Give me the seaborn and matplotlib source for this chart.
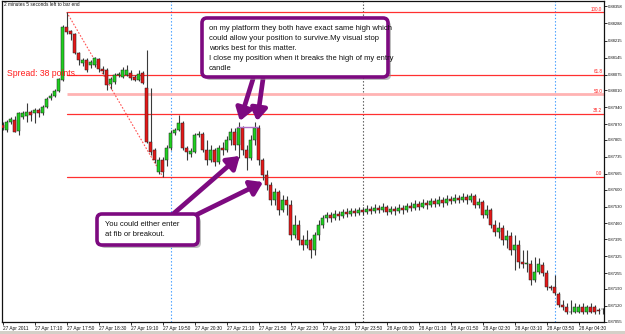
import matplotlib
matplotlib.use("Agg")
import matplotlib.pyplot as plt
import seaborn as sns
import numpy as np
import pandas as pd
from matplotlib.patches import FancyBboxPatch, Rectangle

# ---------------- data (M5 candles, 27 Apr 16:30 .. 28 Apr 05:00) -------------
opens = [
    0.87867, 0.87846, 0.87879, 0.87887, 0.87842, 0.87900, 0.87904, 0.87920, 0.87916, 0.87929,
    0.87916, 0.87941, 0.87978, 0.87987, 0.88007, 0.88053, 0.88272, 0.88255, 0.88243, 0.88164,
    0.88123, 0.88135, 0.88115, 0.88115, 0.88139, 0.88098, 0.88094, 0.88036, 0.88044, 0.88073,
    0.88065, 0.88073, 0.88082, 0.88065, 0.88053, 0.88082, 0.88020, 0.87797, 0.87764, 0.87673,
    0.87722, 0.87722, 0.87772, 0.87834, 0.87846, 0.87875, 0.87772, 0.87747, 0.87755, 0.87825,
    0.87830, 0.87764, 0.87722, 0.87764, 0.87714, 0.87772, 0.87764, 0.87805, 0.87838, 0.87784,
    0.87854, 0.87764, 0.87730, 0.87805, 0.87854, 0.87722, 0.87660, 0.87619, 0.87557, 0.87590,
    0.87516, 0.87557, 0.87536, 0.87412, 0.87454, 0.87392, 0.87371, 0.87392, 0.87350, 0.87412,
    0.87454, 0.87483, 0.87495, 0.87483, 0.87499, 0.87491, 0.87507, 0.87499, 0.87512, 0.87503,
    0.87516, 0.87507, 0.87520, 0.87512, 0.87524, 0.87516, 0.87528, 0.87507, 0.87520, 0.87512,
    0.87524, 0.87516, 0.87532, 0.87524, 0.87541, 0.87528, 0.87545, 0.87536, 0.87553, 0.87541,
    0.87557, 0.87545, 0.87561, 0.87553, 0.87565, 0.87557, 0.87569, 0.87557, 0.87574, 0.87536,
    0.87549, 0.87495, 0.87516, 0.87454, 0.87425, 0.87441, 0.87392, 0.87408, 0.87350, 0.87371,
    0.87301, 0.87293, 0.87293, 0.87227, 0.87260, 0.87289, 0.87256, 0.87198, 0.87198, 0.87169,
    0.87123, 0.87115, 0.87095, 0.87095, 0.87095, 0.87115, 0.87095, 0.87115, 0.87115, 0.87103,
    0.87107]

highs = [
    0.87879, 0.87887, 0.87900, 0.87904, 0.87920, 0.87925, 0.87958, 0.87929, 0.87937, 0.87937,
    0.87949, 0.87982, 0.87999, 0.88015, 0.88061, 0.88280, 0.88333, 0.88259, 0.88247, 0.88168,
    0.88143, 0.88143, 0.88135, 0.88148, 0.88143, 0.88110, 0.88102, 0.88065, 0.88082, 0.88086,
    0.88106, 0.88115, 0.88094, 0.88073, 0.88094, 0.88090, 0.88177, 0.88020, 0.87772, 0.87735,
    0.87735, 0.87784, 0.87846, 0.87854, 0.87908, 0.87883, 0.87780, 0.87772, 0.87834, 0.87842,
    0.87838, 0.87805, 0.87784, 0.87772, 0.87784, 0.87797, 0.87821, 0.87854, 0.87854, 0.87879,
    0.87863, 0.87784, 0.87825, 0.87879, 0.87867, 0.87730, 0.87681, 0.87631, 0.87607, 0.87598,
    0.87578, 0.87574, 0.87557, 0.87495, 0.87474, 0.87412, 0.87433, 0.87400, 0.87425, 0.87474,
    0.87495, 0.87507, 0.87507, 0.87516, 0.87512, 0.87520, 0.87524, 0.87524, 0.87524, 0.87528,
    0.87528, 0.87536, 0.87532, 0.87541, 0.87536, 0.87545, 0.87536, 0.87532, 0.87532, 0.87541,
    0.87536, 0.87545, 0.87549, 0.87557, 0.87553, 0.87561, 0.87557, 0.87565, 0.87565, 0.87574,
    0.87569, 0.87578, 0.87574, 0.87582, 0.87578, 0.87586, 0.87582, 0.87586, 0.87582, 0.87565,
    0.87557, 0.87536, 0.87524, 0.87474, 0.87466, 0.87454, 0.87433, 0.87425, 0.87412, 0.87392,
    0.87350, 0.87350, 0.87309, 0.87322, 0.87317, 0.87301, 0.87268, 0.87206, 0.87247, 0.87177,
    0.87144, 0.87132, 0.87144, 0.87132, 0.87128, 0.87132, 0.87123, 0.87132, 0.87123, 0.87111,
    0.87111]

lows = [
    0.87846, 0.87838, 0.87871, 0.87838, 0.87825, 0.87892, 0.87879, 0.87883, 0.87875, 0.87900,
    0.87908, 0.87937, 0.87970, 0.87982, 0.88003, 0.88048, 0.88243, 0.88218, 0.88160, 0.88115,
    0.88110, 0.88086, 0.88102, 0.88106, 0.88086, 0.88077, 0.88011, 0.88015, 0.88036, 0.88065,
    0.88061, 0.88069, 0.88053, 0.88048, 0.88048, 0.88036, 0.87792, 0.87743, 0.87710, 0.87664,
    0.87652, 0.87697, 0.87764, 0.87825, 0.87842, 0.87764, 0.87722, 0.87735, 0.87751, 0.87817,
    0.87755, 0.87702, 0.87714, 0.87697, 0.87706, 0.87743, 0.87755, 0.87784, 0.87764, 0.87730,
    0.87743, 0.87681, 0.87722, 0.87784, 0.87702, 0.87640, 0.87598, 0.87536, 0.87536, 0.87495,
    0.87507, 0.87495, 0.87392, 0.87400, 0.87371, 0.87350, 0.87359, 0.87317, 0.87330, 0.87392,
    0.87441, 0.87466, 0.87466, 0.87474, 0.87474, 0.87483, 0.87487, 0.87491, 0.87491, 0.87495,
    0.87495, 0.87499, 0.87499, 0.87503, 0.87503, 0.87507, 0.87495, 0.87499, 0.87495, 0.87503,
    0.87499, 0.87507, 0.87512, 0.87516, 0.87516, 0.87524, 0.87520, 0.87528, 0.87528, 0.87532,
    0.87528, 0.87536, 0.87541, 0.87545, 0.87545, 0.87549, 0.87541, 0.87549, 0.87524, 0.87524,
    0.87483, 0.87483, 0.87441, 0.87408, 0.87400, 0.87371, 0.87359, 0.87330, 0.87268, 0.87276,
    0.87276, 0.87260, 0.87206, 0.87218, 0.87251, 0.87243, 0.87185, 0.87185, 0.87165, 0.87115,
    0.87103, 0.87086, 0.87086, 0.87090, 0.87090, 0.87086, 0.87086, 0.87090, 0.87086, 0.87086,
    0.87086]

closes = [
    0.87854, 0.87879, 0.87892, 0.87838, 0.87916, 0.87916, 0.87920, 0.87908, 0.87929, 0.87916,
    0.87941, 0.87974, 0.87987, 0.88007, 0.88057, 0.88272, 0.88251, 0.88243, 0.88164, 0.88135,
    0.88135, 0.88094, 0.88127, 0.88143, 0.88098, 0.88090, 0.88032, 0.88057, 0.88073, 0.88077,
    0.88094, 0.88094, 0.88061, 0.88053, 0.88077, 0.88040, 0.87797, 0.87755, 0.87722, 0.87722,
    0.87673, 0.87772, 0.87834, 0.87846, 0.87875, 0.87772, 0.87755, 0.87759, 0.87825, 0.87830,
    0.87764, 0.87722, 0.87764, 0.87714, 0.87772, 0.87764, 0.87805, 0.87838, 0.87784, 0.87854,
    0.87764, 0.87730, 0.87805, 0.87854, 0.87722, 0.87660, 0.87619, 0.87557, 0.87590, 0.87516,
    0.87557, 0.87536, 0.87412, 0.87454, 0.87392, 0.87371, 0.87392, 0.87350, 0.87412, 0.87454,
    0.87483, 0.87495, 0.87483, 0.87499, 0.87491, 0.87507, 0.87499, 0.87512, 0.87503, 0.87516,
    0.87507, 0.87520, 0.87512, 0.87524, 0.87516, 0.87528, 0.87507, 0.87520, 0.87512, 0.87524,
    0.87516, 0.87532, 0.87524, 0.87541, 0.87528, 0.87545, 0.87536, 0.87553, 0.87541, 0.87557,
    0.87545, 0.87561, 0.87553, 0.87565, 0.87557, 0.87569, 0.87557, 0.87574, 0.87536, 0.87549,
    0.87495, 0.87516, 0.87454, 0.87425, 0.87441, 0.87392, 0.87408, 0.87350, 0.87371, 0.87301,
    0.87293, 0.87297, 0.87227, 0.87260, 0.87293, 0.87256, 0.87198, 0.87194, 0.87173, 0.87123,
    0.87115, 0.87095, 0.87095, 0.87115, 0.87115, 0.87095, 0.87115, 0.87095, 0.87095, 0.87099,
    0.87107]

x_tick_labels = ["27 Apr 2011", "27 Apr 17:10", "27 Apr 17:50", "27 Apr 18:30", "27 Apr 19:10",
                 "27 Apr 19:50", "27 Apr 20:30", "27 Apr 21:10", "27 Apr 21:50", "27 Apr 22:30",
                 "27 Apr 23:10", "27 Apr 23:50", "28 Apr 00:30", "28 Apr 01:10", "28 Apr 01:50",
                 "28 Apr 02:30", "28 Apr 03:10", "28 Apr 03:50", "28 Apr 04:30"]
y_tick_values = [0.88358, 0.88288, 0.88215, 0.88145, 0.88075, 0.88010, 0.87940, 0.87870,
                 0.87805, 0.87735, 0.87665, 0.87600, 0.87530, 0.87460, 0.87395, 0.87325,
                 0.87255, 0.87190, 0.87120, 0.87055]

fib_high = 0.88333
fib_low = 0.87654
fib_ratios = [100.0, 61.8, 50.0, 38.2, 0.0]
fib_start_bar = 16
fib_low_bar = 40

blue_separators = [42, 138]
day_separator = 90

same_high_price = 0.87858

note_top = ("on my platform they both have exact same high which",
            "could allow your position to survive.My visual stop",
            "works best for this matter.",
            "I close my position when it breaks the high of my entry",
            "candle")
note_bottom = ("You could either enter", "at fib or breakout.")

# ---------------- figure ----------------
sns.set_theme(style="white")
plt.rcParams["font.family"] = ["Liberation Sans", "DejaVu Sans"]

W, H = 625, 334
fig = plt.figure(figsize=(W / 100, H / 100), dpi=100)
fig.patch.set_facecolor("white")
ax = fig.add_axes([2 / W, 1 - 322 / H, 602 / W, 321 / H])
ax.set_facecolor("white")

df = pd.DataFrame({"open": opens, "high": highs, "low": lows, "close": closes})
df["bar"] = np.arange(len(df))
up = df["close"] >= df["open"]

# wicks
ax.vlines(df["bar"], df["low"], df["high"], color="#3a3a3a", lw=0.8, zorder=3)
# bodies
body_lo = np.minimum(df["open"], df["close"])
body_h = np.maximum(np.abs(df["close"] - df["open"]), 0.000012)
ax.bar(df["bar"][up], body_h[up], bottom=body_lo[up], width=0.72,
       color="#1fd01f", edgecolor="#202020", linewidth=0.35, zorder=4)
ax.bar(df["bar"][~up], body_h[~up], bottom=body_lo[~up], width=0.72,
       color="#e41818", edgecolor="#202020", linewidth=0.35, zorder=4)

ax.set_xlim(-0.175, 150.33)
ax.set_ylim(0.87053, 0.88379)

# separators
for b in blue_separators:
    ax.axvline(b, color="#3d9bff", lw=0.8, ls=(0, (1.2, 1.8)), zorder=1)
ax.axvline(day_separator, color="#505050", lw=0.8, ls=(0, (1.2, 1.8)), zorder=1)

# fibonacci retracement
for r in fib_ratios:
    lvl = fib_low + (fib_high - fib_low) * r / 100.0
    if r == 50.0:
        ax.plot([fib_start_bar, 150.4], [lvl, lvl], color="#ffb3b3", lw=2.0, zorder=2,
                solid_capstyle="butt")
    else:
        ax.plot([fib_start_bar, 150.4], [lvl, lvl], color="#ff3030", lw=0.9, zorder=2)
    ax.text(149.9, lvl + 0.00002, f"{r:.1f}", color="#ff2020", fontsize=3.3,
            ha="right", va="bottom", zorder=6)
ax.plot([fib_start_bar, fib_low_bar], [fib_high, fib_low], color="#ff5050", lw=0.8,
        ls=(0, (1.5, 1.5)), zorder=2)

# same-high marker
ax.plot([58.6, 63.8], [same_high_price, same_high_price], color="#b070c8", lw=1.0, zorder=6)

# axes styling
for s in ax.spines.values():
    s.set_color("#111111")
    s.set_linewidth(0.9)
ax.yaxis.tick_right()
ax.set_yticks(y_tick_values)
ax.set_yticklabels([f"{v:.5f}" for v in y_tick_values])
ax.set_xticks(list(range(0, 8 * len(x_tick_labels), 8)))
ax.set_xticklabels(x_tick_labels, ha="left")
ax.tick_params(axis="y", which="both", right=True, left=False, length=2.0, width=0.6,
               pad=1.0, labelsize=3.0, colors="#111111", direction="out")
ax.tick_params(axis="x", which="both", bottom=True, length=2.0, width=0.6, pad=1.2,
               labelsize=3.4, colors="#111111", direction="out")
ax.grid(False)

def px(x, y):
    return (x / 100.0, (H - y) / 100.0)

fig.text(*px(4, 5), "2 minutes 5 seconds left to bar end", transform=fig.dpi_scale_trans,
         fontsize=3.4, color="#111111", ha="left", va="center")
fig.text(*px(7, 73), "Spread: 38 points.", transform=fig.dpi_scale_trans,
         fontsize=6.2, color="#ff1a1a", ha="left", va="center", zorder=7)

purple = "#7d0a80"

def note_box(x0, y0, x1, y1):
    sh = FancyBboxPatch(px(x0 + 3, y1 + 3), (x1 - x0) / 100, (y1 - y0) / 100,
                        boxstyle="round,pad=0,rounding_size=0.05",
                        transform=fig.dpi_scale_trans, facecolor="#8a8a8a",
                        edgecolor="none", alpha=0.55, zorder=8)
    bx = FancyBboxPatch(px(x0, y1), (x1 - x0) / 100, (y1 - y0) / 100,
                        boxstyle="round,pad=0,rounding_size=0.05",
                        transform=fig.dpi_scale_trans, facecolor="white",
                        edgecolor=purple, linewidth=2.6, zorder=9)
    fig.patches.extend([sh, bx])

def arrow(sx, sy, bar, price):
    ax.annotate("", xy=(bar, price), xycoords="data", xytext=px(sx, sy),
                textcoords=fig.dpi_scale_trans,
                arrowprops=dict(arrowstyle="-|>,head_length=0.6,head_width=0.4",
                                color=purple, lw=3.4, shrinkA=0, shrinkB=0),
                zorder=7, annotation_clip=False)

arrow(253, 79, 59.3, 0.87883)
arrow(263, 79, 63.6, 0.87883)
arrow(172, 215, 59.3, 0.87739)
arrow(196, 215, 65.1, 0.87631)

note_box(202, 18, 388, 77)
for k, line in enumerate(note_top):
    fig.text(*px(209, 28 + k * 10), line, transform=fig.dpi_scale_trans, fontsize=5.5,
             color="#111111", ha="left", va="center", zorder=10)

note_box(97, 214, 198, 245)
for k, line in enumerate(note_bottom):
    fig.text(*px(105, 225 + k * 9.5), line, transform=fig.dpi_scale_trans, fontsize=5.5,
             color="#111111", ha="left", va="center", zorder=10)

fig.patches.append(Rectangle(px(0, H), W / 100, 3 / 100, transform=fig.dpi_scale_trans,
                             facecolor="#d4d0c8", edgecolor="none", zorder=0))

fig.savefig("out.png", dpi=100, facecolor="white")
